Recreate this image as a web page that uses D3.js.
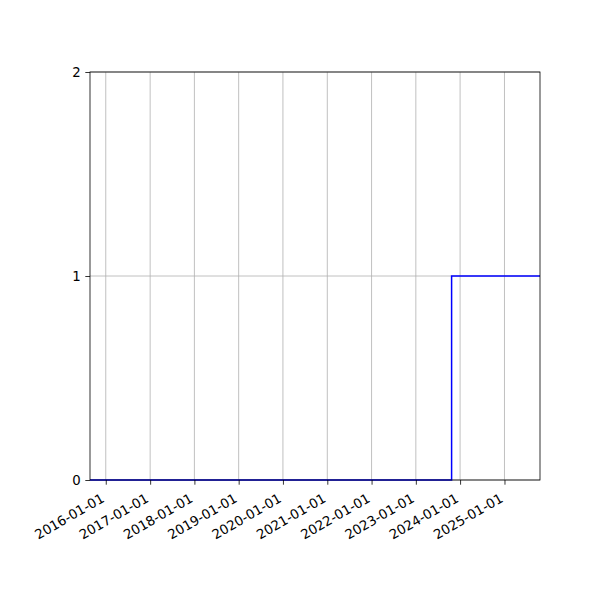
<!DOCTYPE html>
<html>
<head>
<meta charset="utf-8">
<script src="https://cdn.jsdelivr.net/npm/d3@7"></script>
<style>
  body { margin: 0; background: #fff; }
  svg { font-family: 'DejaVu Sans', sans-serif; }
</style>
</head>
<body>
<div id="chart"></div>
<script>
// step series: 0 until the jump, then 1
var dates = ['2015-08-24', '2023-10-23', '2025-10-21'];
var values = [0, 1, 1];
var xTickLabels = ['2016-01-01', '2017-01-01', '2018-01-01', '2019-01-01', '2020-01-01',
  '2021-01-01', '2022-01-01', '2023-01-01', '2024-01-01', '2025-01-01'];
var yTicks = [0, 1, 2];

var parse = d3.timeParse('%Y-%m-%d');
var W = 600, H = 600;
var margin = { top: 72, right: 60, bottom: 120, left: 90 };
var width = W - margin.left - margin.right;
var height = H - margin.top - margin.bottom;

var svg = d3.select('#chart').append('svg')
  .attr('width', W).attr('height', H);

var g = svg.append('g').attr('transform', 'translate(' + margin.left + ',' + margin.top + ')');

var points = dates.map(function (d, i) { return { date: parse(d), value: values[i] }; });

var x = d3.scaleTime()
  .domain(d3.extent(points, function (d) { return d.date; }))
  .range([0, width]);
var y = d3.scaleLinear().domain([0, 2]).range([height, 0]);

var xTicks = xTickLabels.map(parse);

// grid
g.append('g').selectAll('line').data(xTicks).enter().append('line')
  .attr('x1', function (d) { return x(d); }).attr('x2', function (d) { return x(d); })
  .attr('y1', 0).attr('y2', height)
  .attr('stroke', '#b0b0b0').attr('stroke-width', 0.8);
g.append('g').selectAll('line').data(yTicks).enter().append('line')
  .attr('x1', 0).attr('x2', width)
  .attr('y1', function (d) { return y(d); }).attr('y2', function (d) { return y(d); })
  .attr('stroke', '#b0b0b0').attr('stroke-width', 0.8);

// step line
var line = d3.line()
  .curve(d3.curveStepAfter)
  .x(function (d) { return x(d.date); })
  .y(function (d) { return y(d.value); });

g.append('path').datum(points)
  .attr('d', line)
  .attr('fill', 'none')
  .attr('stroke', '#0000ff')
  .attr('stroke-width', 1.5);

// axes
var xAxis = g.append('g').attr('transform', 'translate(0,' + height + ')')
  .call(d3.axisBottom(x).tickValues(xTicks).tickFormat(d3.timeFormat('%Y-%m-%d'))
    .tickSize(4.7).tickPadding(0).tickSizeOuter(0));
xAxis.select('.domain').remove();
xAxis.selectAll('line').attr('stroke', '#000').attr('stroke-width', 0.8);
xAxis.selectAll('text')
  .attr('font-size', '13.3px').attr('font-family', 'DejaVu Sans, sans-serif').attr('fill', '#000')
  .attr('text-anchor', 'end')
  .attr('dy', null).attr('y', 0)
  .attr('transform', 'translate(-1,21) rotate(-30)');

var yAxis = g.append('g')
  .call(d3.axisLeft(y).tickValues(yTicks).tickFormat(d3.format('d'))
    .tickSize(4.7).tickPadding(4.7).tickSizeOuter(0));
yAxis.select('.domain').remove();
yAxis.selectAll('line').attr('stroke', '#000').attr('stroke-width', 0.8);
yAxis.selectAll('text')
  .attr('font-size', '13.3px').attr('font-family', 'DejaVu Sans, sans-serif').attr('fill', '#000');

// frame
g.append('rect')
  .attr('width', width).attr('height', height)
  .attr('fill', 'none').attr('stroke', '#000').attr('stroke-width', 0.8);
</script>
</body>
</html>
